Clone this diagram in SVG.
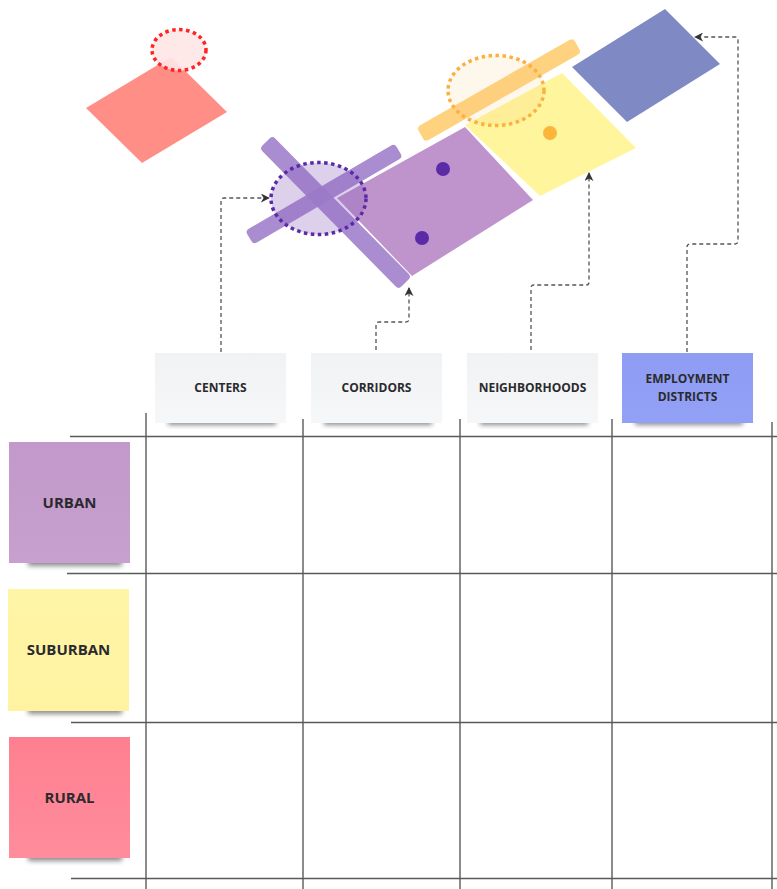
<svg xmlns="http://www.w3.org/2000/svg" width="777" height="889" viewBox="0 0 777 889">
  <defs>
    <filter id="shadow" x="-20%" y="-50%" width="140%" height="200%">
      <feGaussianBlur stdDeviation="2.5"/>
    </filter>
    <linearGradient id="gGray" x1="0" y1="0" x2="0" y2="1">
      <stop offset="0" stop-color="#f1f2f4"/>
      <stop offset="1" stop-color="#f6f7f8"/>
    </linearGradient>
    <linearGradient id="gBlue" x1="0" y1="0" x2="0" y2="1">
      <stop offset="0" stop-color="#8e9cf3"/>
      <stop offset="1" stop-color="#92a0f6"/>
    </linearGradient>
    <linearGradient id="gPurple" x1="0" y1="0" x2="0" y2="1">
      <stop offset="0" stop-color="#c299ca"/>
      <stop offset="1" stop-color="#c7a0cf"/>
    </linearGradient>
    <linearGradient id="gYellow" x1="0" y1="0" x2="0" y2="1">
      <stop offset="0" stop-color="#fff5a6"/>
      <stop offset="1" stop-color="#fff3a2"/>
    </linearGradient>
    <linearGradient id="gPink" x1="0" y1="0" x2="0" y2="1">
      <stop offset="0" stop-color="#fe8090"/>
      <stop offset="1" stop-color="#ff8c9c"/>
    </linearGradient>
    <marker id="arrow" viewBox="0 0 10 10" refX="9" refY="5" markerWidth="9" markerHeight="9" markerUnits="userSpaceOnUse" orient="auto">
      <path d="M0,0 L10,5 L0,10 L3,5 z" fill="#333"/>
    </marker>
  </defs>
  <style>
    .label { font-family: "Open Sans", "Liberation Sans", sans-serif; font-weight: 700; fill: #2a2a2e; text-anchor: middle; }
    .hdr { font-size: 12px; }
    .row { font-size: 15px; }
    .grid line { stroke: #5a5a5a; stroke-width: 1.4; }
    .conn path { fill: none; stroke: #555; stroke-width: 1.3; stroke-dasharray: 4 3; marker-end: url(#arrow); }
    .shade { fill: #000; opacity: 0.45; filter: url(#shadow); }
    .dotted { stroke-width: 3.5; stroke-dasharray: 3.5 3.5; }
  </style>

  <rect width="777" height="889" fill="#ffffff"/>

  <!-- map shapes -->
  <g id="map">
    <!-- rural parcel -->
    <polygon points="86,108 171,57 227,112 142,163" fill="#ff8f86"/>
    <ellipse cx="179" cy="50" rx="27" ry="20.5" fill="#ffe6e6" fill-opacity="0.92" stroke="#ff2424" class="dotted"/>

    <!-- employment block -->
    <polygon points="572,67 665,9 720,64 627,122" fill="#7f8ac4"/>

    <!-- suburban block -->
    <polygon points="465,125 562,73 636,148 540,196" fill="#fff59d"/>
    <circle cx="550" cy="133" r="7" fill="#fbb53b"/>
    <rect x="-90" y="-8.5" width="180" height="17" rx="4" fill="#ffd27f" transform="translate(499,90) rotate(-29.8)"/>
    <ellipse cx="496" cy="90.5" rx="48" ry="35" fill="rgb(250,200,120)" fill-opacity="0.15" stroke="#fbb040" class="dotted"/>

    <!-- urban block -->
    <polygon points="337,198 465,127 533,200 412,276" fill="#bf93cb"/>
    <circle cx="443" cy="169" r="7" fill="#5b2aa6"/>
    <circle cx="422" cy="238" r="7" fill="#5b2aa6"/>
    <rect x="-86.5" y="-8" width="173" height="16" rx="4" fill="#a283cc" fill-opacity="0.92" transform="translate(324,194) rotate(-30.3)"/>
    <rect x="-99" y="-9" width="198" height="18" rx="4" fill="#a283cc" fill-opacity="0.92" transform="translate(335.5,212.5) rotate(45.4)"/>
    <ellipse cx="318.5" cy="198.5" rx="47.5" ry="36" fill="rgb(140,100,190)" fill-opacity="0.3" stroke="#5b2aa6" class="dotted"/>
  </g>

  <!-- table grid -->
  <g class="grid">
    <line x1="146" y1="413" x2="146" y2="889"/>
    <line x1="303" y1="419" x2="303" y2="889"/>
    <line x1="460" y1="419" x2="460" y2="889"/>
    <line x1="612" y1="419" x2="612" y2="889"/>
    <line x1="772" y1="422" x2="772" y2="889"/>
    <line x1="70" y1="436.5" x2="777" y2="436.5"/>
    <line x1="67" y1="573.5" x2="777" y2="573.5"/>
    <line x1="71" y1="722.5" x2="777" y2="722.5"/>
    <line x1="71" y1="878.5" x2="777" y2="878.5"/>
  </g>

  <!-- connectors -->
  <g class="conn">
    <path d="M221,352 V201 Q221,198 224,198 H269"/>
    <path d="M376,350 V325 Q376,322 379,322 H406 Q409,322 409,319 V288"/>
    <path d="M531,350 V288 Q531,285 534,285 H586 Q589,285 589,282 V173"/>
    <path d="M687,352 V247 Q687,244 690,244 H735 Q738,244 738,241 V40 Q738,37 735,37 H695"/>
  </g>

  <!-- column headers -->
  <g id="centers">
    <rect class="shade" x="168" y="418" width="108" height="7"/>
    <rect x="155" y="353" width="131" height="70" fill="url(#gGray)"/>
    <text class="label hdr" x="220.5" y="392">CENTERS</text>
  </g>
  <g id="corridors">
    <rect class="shade" x="324" y="418" width="108" height="7"/>
    <rect x="311" y="353" width="131" height="70" fill="url(#gGray)"/>
    <text class="label hdr" x="376.5" y="392">CORRIDORS</text>
  </g>
  <g id="neighborhoods">
    <rect class="shade" x="480" y="418" width="108" height="7"/>
    <rect x="467" y="353" width="131" height="70" fill="url(#gGray)"/>
    <text class="label hdr" x="532.5" y="392">NEIGHBORHOODS</text>
  </g>
  <g id="employment-districts">
    <rect class="shade" x="635" y="418" width="108" height="7"/>
    <rect x="622" y="353" width="131" height="70" fill="url(#gBlue)"/>
    <text class="label hdr" x="687.5" y="383">EMPLOYMENT</text>
    <text class="label hdr" x="687.5" y="401">DISTRICTS</text>
  </g>

  <!-- row headers -->
  <g id="urban">
    <rect class="shade" x="28" y="557" width="94" height="9"/>
    <rect x="9" y="442" width="121" height="121" fill="url(#gPurple)"/>
    <text class="label row" x="69.5" y="507.5">URBAN</text>
  </g>
  <g id="suburban">
    <rect class="shade" x="28" y="705" width="94" height="9"/>
    <rect x="8" y="589" width="121" height="122" fill="url(#gYellow)"/>
    <text class="label row" x="68.5" y="654.5">SUBURBAN</text>
  </g>
  <g id="rural">
    <rect class="shade" x="28" y="852" width="94" height="9"/>
    <rect x="9" y="737" width="121" height="121" fill="url(#gPink)"/>
    <text class="label row" x="69.5" y="802.5">RURAL</text>
  </g>
</svg>
